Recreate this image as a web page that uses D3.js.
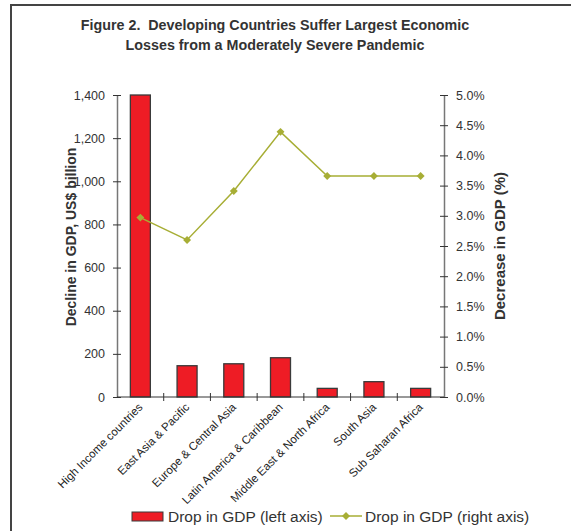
<!DOCTYPE html>
<html><head><meta charset="utf-8">
<script src="https://cdn.jsdelivr.net/npm/d3@7"></script>
<style>
html,body{margin:0;padding:0;background:#fff;}
svg{display:block;font-family:"Liberation Sans",Arial,sans-serif;}
</style></head>
<body><svg id="c" width="571" height="531"></svg>
<script>
const categories = ["High Income countries","East Asia & Pacific","Europe & Central Asia","Latin America & Caribbean","Middle East & North Africa","South Asia","Sub Saharan Africa"];
const gdpDrop = [1400, 145, 154, 182, 40, 71, 40];
const gdpPct = [2.97, 2.6, 3.41, 4.39, 3.66, 3.66, 3.66];
const leftTicks = [0,200,400,600,800,1000,1200,1400];
const rightTicks = [0,0.5,1,1.5,2,2.5,3,3.5,4,4.5,5];
const titleLines = ["Figure 2.  Developing Countries Suffer Largest Economic","Losses from a Moderately Severe Pandemic"];

const svg = d3.select("#c");
const L = 117, R = 444, T = 95, B = 397;

svg.append("rect").attr("x",11).attr("y",5).attr("width",600).attr("height",600)
  .attr("fill","none").attr("stroke","#444").attr("stroke-width",2);

const x = d3.scaleBand().domain(categories).range([L,R]).paddingInner(0).paddingOuter(0);
const yL = d3.scaleLinear().domain([0,1400]).range([B,T]);
const yR = d3.scaleLinear().domain([0,5]).range([B,T]);

// title
svg.append("g").selectAll("text").data(titleLines).join("text")
  .attr("x",275).attr("y",(d,i)=>30+i*20).attr("text-anchor","middle")
  .style("white-space","pre")
  .attr("font-size",14.3).attr("font-weight","bold").attr("fill","#333").text(d=>d);

// bars
const bw = 20;
svg.append("g").selectAll("rect").data(gdpDrop).join("rect")
  .attr("x",(d,i)=>x(categories[i])+x.bandwidth()/2-bw/2)
  .attr("y",d=>yL(d)).attr("width",bw).attr("height",d=>B-yL(d))
  .attr("fill","#ee1c25").attr("stroke","#3a3a3a").attr("stroke-width",1.3);

// left axis
const gl = svg.append("g").attr("transform",`translate(${L},0)`)
  .call(d3.axisLeft(yL).tickValues(leftTicks).tickFormat(d3.format(",")).tickSizeInner(4).tickSizeOuter(0).tickPadding(8));
gl.selectAll(".tick line").attr("x2",4).attr("x1",-4);
// right axis
const gr = svg.append("g").attr("transform",`translate(${R},0)`)
  .call(d3.axisRight(yR).tickValues(rightTicks).tickFormat(d=>d.toFixed(1)+"%").tickSizeInner(4).tickSizeOuter(0).tickPadding(8));
gr.selectAll(".tick line").attr("x2",4).attr("x1",-4);
[gl,gr].forEach(g=>{
  g.select(".domain").attr("stroke","#777").attr("stroke-width",1.5);
  g.selectAll(".tick line").attr("stroke","#333");
  g.selectAll("text").attr("font-size",12.5).attr("fill","#333").attr("font-family","Liberation Sans, Arial, sans-serif");
});

// x axis
svg.append("line").attr("x1",L).attr("x2",R).attr("y1",B).attr("y2",B).attr("stroke","#333").attr("stroke-width",1);
svg.append("g").selectAll("line").data(categories.slice(1)).join("line")
  .attr("x1",d=>x(d)).attr("x2",d=>x(d)).attr("y1",B-4).attr("y2",B+4).attr("stroke","#333");
svg.append("g").selectAll("text").data(categories).join("text")
  .attr("transform",d=>`translate(${x(d)+x.bandwidth()/2+3},${B+11}) rotate(-45)`)
  .attr("text-anchor","end").attr("font-size",11.5).attr("fill","#222").text(d=>d);

// line
const lineCol = "#a7ae35";
const line = d3.line().x((d,i)=>x(categories[i])+x.bandwidth()/2).y(d=>yR(d));
svg.append("path").datum(gdpPct).attr("d",line).attr("fill","none").attr("stroke",lineCol).attr("stroke-width",1.5);
const diamond = d3.symbol().type(d3.symbolDiamond2).size(40);
svg.append("g").selectAll("path").data(gdpPct).join("path")
  .attr("transform",(d,i)=>`translate(${x(categories[i])+x.bandwidth()/2},${yR(d)})`)
  .attr("d",diamond).attr("fill",lineCol);

// axis titles
svg.append("text").attr("transform",`translate(76,237) rotate(-90)`).attr("text-anchor","middle")
  .attr("font-size",14).attr("font-weight","bold").attr("fill","#333").text("Decline in GDP, US$ billion");
svg.append("text").attr("transform",`translate(505,246) rotate(-90)`).attr("text-anchor","middle")
  .attr("font-size",15).attr("font-weight","bold").attr("fill","#333").text("Decrease in GDP (%)");

// legend
const lg = svg.append("g");
lg.append("rect").attr("x",132).attr("y",512).attr("width",31).attr("height",9)
  .attr("fill","#ee1c25").attr("stroke","#3a3a3a").attr("stroke-width",1);
lg.append("text").attr("x",168).attr("y",522).attr("font-size",15.5).attr("fill","#333").text("Drop in GDP (left axis)");
lg.append("line").attr("x1",330).attr("x2",362).attr("y1",516).attr("y2",516).attr("stroke",lineCol).attr("stroke-width",1.5);
lg.append("path").attr("transform","translate(346,516)").attr("d",diamond).attr("fill",lineCol);
lg.append("text").attr("x",365).attr("y",522).attr("font-size",15.5).attr("fill","#333").text("Drop in GDP (right axis)");
</script></body></html>
